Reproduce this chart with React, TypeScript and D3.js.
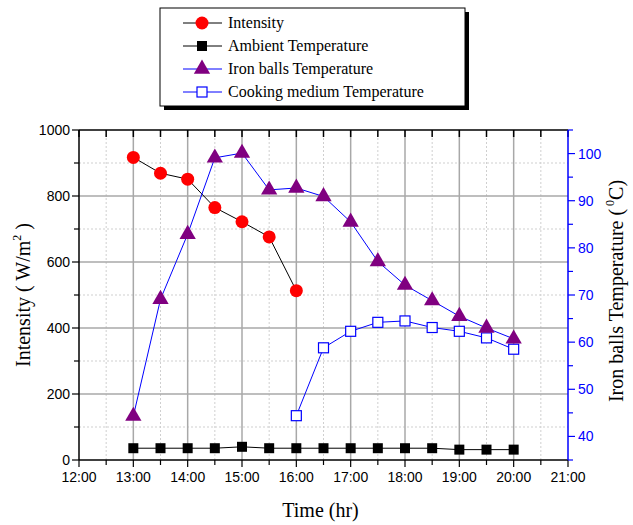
import React from 'react';
import * as d3 from 'd3';

const times = ['13:00', '13:30', '14:00', '14:30', '15:00', '15:30', '16:00', '16:30', '17:00', '17:30', '18:00', '18:30', '19:00', '19:30', '20:00'];
const intensity = [917, 869, 851, 765, 722, 676, 513];
const ambientTemp = [37.5, 37.5, 37.5, 37.5, 37.8, 37.5, 37.5, 37.5, 37.5, 37.5, 37.5, 37.5, 37.2, 37.2, 37.2];
const ironTemp = [44.3, 69.1, 82.9, 99.1, 100.1, 92.3, 92.7, 90.9, 85.5, 77.1, 72.1, 68.8, 65.5, 63, 60.7];
const cookingTimes = ['16:00', '16:30', '17:00', '17:30', '18:00', '18:30', '19:00', '19:30', '20:00'];
const cookingTemp = [44.4, 58.8, 62.3, 64.2, 64.5, 63.1, 62.3, 60.9, 58.5];
const legendLabels = ['Intensity', 'Ambient Temperature', 'Iron balls Temperature', 'Cooking medium Temperature'];

const toHour = (t: string) => {
  const [h, m] = t.split(':').map(Number);
  return h + m / 60;
};

const W = 633;
const H = 525;
const left = 79;
const right = 568;
const top = 130;
const bottom = 460;

const serif = '"Liberation Serif", "Times New Roman", serif';
const sans = '"Liberation Sans", Arial, sans-serif';

const App = () => {
  const x = d3.scaleLinear().domain([12, 21]).range([left, right]);
  const yL = d3.scaleLinear().domain([0, 1000]).range([bottom, top]);
  const yR = d3.scaleLinear().domain([35, 105]).range([bottom, top]);

  const halfHours = d3.range(12, 21.01, 0.5);
  const hours = d3.range(12, 22, 1);
  const yMinor = d3.range(0, 1001, 100);
  const yMajor = d3.range(0, 1001, 200);
  const rMajor = d3.range(40, 101, 10);
  const rMinor = d3.range(35, 106, 5);

  const intensityPts = intensity.map((v, i) => [x(toHour(times[i])), yL(v)] as [number, number]);
  const ambientPts = ambientTemp.map((v, i) => [x(toHour(times[i])), yR(v)] as [number, number]);
  const ironPts = ironTemp.map((v, i) => [x(toHour(times[i])), yR(v)] as [number, number]);
  const cookPts = cookingTemp.map((v, i) => [x(toHour(cookingTimes[i])), yR(v)] as [number, number]);

  const line = d3.line();
  const tri = d3.symbol().type(d3.symbolTriangle).size(115);

  const legendX = 160;
  const legendY = 8;
  const legendRowY = (i: number) => legendY + 15 + i * 23;

  return (
    <svg width={W} height={H} style={{ position: 'absolute', left: 0, top: 0, background: '#fff' }}>
      {/* grid */}
      {halfHours.filter(h => h % 1 !== 0).map(h => (
        <line key={'vm' + h} x1={x(h)} x2={x(h)} y1={top} y2={bottom} stroke="#cfcfcf" strokeDasharray="2,2" />
      ))}
      {yMinor.filter(v => v % 200 !== 0).map(v => (
        <line key={'hm' + v} x1={left} x2={right} y1={yL(v)} y2={yL(v)} stroke="#cfcfcf" strokeDasharray="2,2" />
      ))}
      {hours.slice(1, -1).map(h => (
        <line key={'vM' + h} x1={x(h)} x2={x(h)} y1={top} y2={bottom} stroke="#a8a8a8" strokeWidth={1.5} />
      ))}
      {yMajor.slice(1, -1).map(v => (
        <line key={'hM' + v} x1={left} x2={right} y1={yL(v)} y2={yL(v)} stroke="#a8a8a8" strokeWidth={1.5} />
      ))}

      {/* top axis */}
      <line x1={left} x2={right} y1={top} y2={top} stroke="#000" strokeWidth={1.5} />
      {halfHours.map(h => (
        <line key={'tt' + h} x1={x(h)} x2={x(h)} y1={top} y2={top + 7} stroke="#000" strokeWidth={1.5} />
      ))}

      {/* bottom axis */}
      <line x1={left} x2={right} y1={bottom} y2={bottom} stroke="#000" strokeWidth={1.5} />
      {halfHours.map(h => (
        <line key={'bt' + h} x1={x(h)} x2={x(h)} y1={bottom} y2={bottom + (h % 1 === 0 ? 7 : 5)} stroke="#000" strokeWidth={1.2} />
      ))}
      {hours.map(h => (
        <text key={'bl' + h} x={x(h)} y={bottom + 22} textAnchor="middle" fontFamily={sans} fontSize={14} fill="#000">
          {h}:00
        </text>
      ))}

      {/* left axis */}
      <line x1={left} x2={left} y1={top} y2={bottom} stroke="#000" strokeWidth={1.5} />
      {yMinor.map(v => (
        <line key={'lt' + v} x1={left - (v % 200 === 0 ? 7 : 5)} x2={left} y1={yL(v)} y2={yL(v)} stroke="#000" strokeWidth={1.2} />
      ))}
      {yMajor.map(v => (
        <text key={'ll' + v} x={left - 9} y={yL(v) + 5} textAnchor="end" fontFamily={sans} fontSize={14} fill="#000">
          {v}
        </text>
      ))}

      {/* right axis */}
      <line x1={right} x2={right} y1={top} y2={bottom} stroke="#0000ff" strokeWidth={1.5} />
      {rMinor.map(v => (
        <line key={'rt' + v} x1={right} x2={right + (v % 10 === 0 ? 7 : 5)} y1={yR(v)} y2={yR(v)} stroke="#0000ff" strokeWidth={1.2} />
      ))}
      {rMajor.map(v => (
        <text key={'rl' + v} x={right + 10} y={yR(v) + 5} textAnchor="start" fontFamily={sans} fontSize={14} fill="#0000ff">
          {v}
        </text>
      ))}

      {/* series lines */}
      <path d={line(intensityPts) || ''} fill="none" stroke="#000" strokeWidth={1} />
      <path d={line(ambientPts) || ''} fill="none" stroke="#000" strokeWidth={1} />
      <path d={line(ironPts) || ''} fill="none" stroke="#0000ff" strokeWidth={1} />
      <path d={line(cookPts) || ''} fill="none" stroke="#0000ff" strokeWidth={1} />

      {/* markers */}
      {ambientPts.map(([px, py], i) => (
        <rect key={'a' + i} x={px - 5} y={py - 5} width={10} height={10} fill="#000" />
      ))}
      {cookPts.map(([px, py], i) => (
        <rect key={'c' + i} x={px - 5} y={py - 5} width={10} height={10} fill="#fff" stroke="#0000ff" strokeWidth={1.2} />
      ))}
      {ironPts.map(([px, py], i) => (
        <path key={'t' + i} d={tri() || ''} transform={`translate(${px},${py})`} fill="#800080" />
      ))}
      {intensityPts.map(([px, py], i) => (
        <circle key={'i' + i} cx={px} cy={py} r={6.5} fill="#ff0000" />
      ))}

      {/* axis titles */}
      <text x={W / 2 + 4} y={517} textAnchor="middle" fontFamily={serif} fontSize={20} fill="#000">
        Time (hr)
      </text>
      <text transform={`translate(30,${(top + bottom) / 2}) rotate(-90)`} textAnchor="middle" fontFamily={serif} fontSize={20} fill="#000">
        Intensity ( W/m<tspan dy={-9} fontSize={12}>2</tspan>
        <tspan dy={9}> )</tspan>
      </text>
      <text transform={`translate(623,${(top + bottom) / 2 - 4}) rotate(-90)`} textAnchor="middle" fontFamily={serif} fontSize={20} fill="#000">
        Iron balls Temperature (<tspan dy={-9} fontSize={12}> 0</tspan>
        <tspan dy={9}>C)</tspan>
      </text>

      {/* legend */}
      <rect x={legendX + 4} y={legendY + 4} width={305} height={98} fill="#000" />
      <rect x={legendX} y={legendY} width={305} height={98} fill="#fff" stroke="#000" strokeWidth={1} />
      {legendLabels.map((lab, i) => {
        const ly = legendRowY(i);
        const lineColor = i < 2 ? '#000' : '#0000ff';
        const mx = legendX + 42;
        return (
          <g key={'lg' + i}>
            <line x1={legendX + 23} x2={legendX + 62} y1={ly} y2={ly} stroke={lineColor} strokeWidth={1} />
            {i === 0 && <circle cx={mx} cy={ly} r={6.5} fill="#ff0000" />}
            {i === 1 && <rect x={mx - 5} y={ly - 5} width={10} height={10} fill="#000" />}
            {i === 2 && <path d={tri() || ''} transform={`translate(${mx},${ly})`} fill="#800080" />}
            {i === 3 && <rect x={mx - 5} y={ly - 5} width={10} height={10} fill="#fff" stroke="#0000ff" strokeWidth={1.2} />}
            <text x={legendX + 68} y={ly + 5} fontFamily={serif} fontSize={16} fill="#000">
              {lab}
            </text>
          </g>
        );
      })}
    </svg>
  );
};

export default App;
